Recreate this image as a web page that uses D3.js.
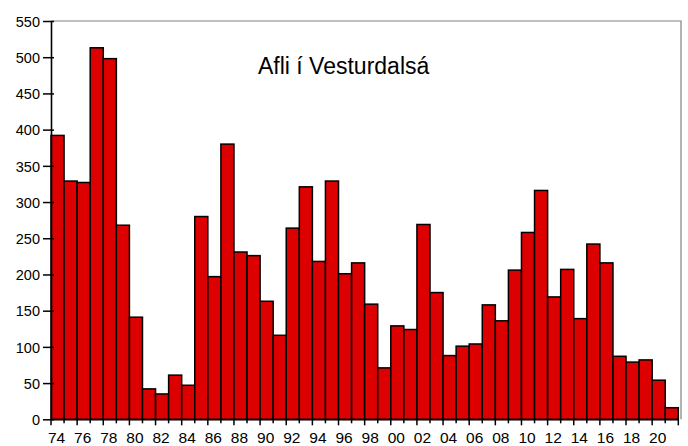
<!DOCTYPE html>
<html><head><meta charset="utf-8">
<script src="https://cdn.jsdelivr.net/npm/d3@7/dist/d3.min.js"></script>
<style>body{margin:0;background:#fff}svg{display:block}text{font-family:"Liberation Sans",Arial,sans-serif;fill:#000}</style>
</head><body><svg id="c" width="688" height="446"></svg>
<script>
const years = d3.range(1974, 2022);
const catch_ = [392,329,327,513,498,268,141,42,35,61,47,280,197,380,231,226,163,116,264,321,218,329,201,216,159,71,129,124,269,175,88,101,104,158,136,206,258,316,169,207,139,242,216,87,79,82,54,16];
const yTicks = [0,50,100,150,200,250,300,350,400,450,500,550];
const title = "Afli í Vesturdalsá";

const svg = d3.select("#c");
const L = 51, R = 678.3, T = 21, B = 419.3, FR = 681;
const x = d3.scaleBand().domain(years).range([L, R]).padding(0);
const y = d3.scaleLinear().domain([0, 550]).range([B, T]);

// frame top & right
svg.append("path").attr("d", `M${L},${T}H${FR}V${B}`).attr("fill","none").attr("stroke","#808080").attr("stroke-width",1.2);

// bars
svg.append("g").selectAll("rect").data(years).join("rect")
  .attr("x", d => x(d)).attr("width", x.bandwidth())
  .attr("y", (d,i) => y(catch_[i])).attr("height", (d,i) => B - y(catch_[i]))
  .attr("fill", "#dc0000").attr("stroke", "#000").attr("stroke-width", 1.5);

// y axis
const ya = svg.append("g").attr("transform", `translate(${L},0)`)
  .call(d3.axisLeft(y).tickValues(yTicks).tickSize(8).tickSizeOuter(0));
ya.select(".domain").attr("stroke","#000").attr("stroke-width",1.6);
ya.selectAll(".tick line").attr("stroke","#000").attr("stroke-width",1.5).attr("x2",-8).attr("x1",3);
ya.selectAll(".tick text").attr("x",-11).attr("dy","0.36em").style("font-size","14.5px").attr("font-family",null);

// x axis
const xa = svg.append("g").attr("transform", `translate(0,${B})`)
  .call(d3.axisBottom(x).tickValues(years.filter(d => d % 2 === 0)).tickFormat(d => String(d).slice(2)).tickSize(0).tickSizeOuter(0));
xa.select(".domain").attr("stroke","#000").attr("stroke-width",1.6);
xa.selectAll(".tick line").remove();
xa.selectAll(".tick text").attr("y",13).attr("dy","0.71em").style("font-size","15.5px").attr("font-family",null).attr("dx","-1");
// boundary ticks
const edges = years.map(d => x(d)).concat([R]);
svg.append("g").selectAll("line").data(edges).join("line")
  .attr("x1", d => d).attr("x2", d => d).attr("y1", B).attr("y2", (d,i) => B + (i % 2 === 0 ? 6 : 4))
  .attr("stroke","#000").attr("stroke-width",1.5);

// title
svg.append("text").attr("x", 258).attr("y", 74).style("font-size","23px").text(title);
</script></body></html>
